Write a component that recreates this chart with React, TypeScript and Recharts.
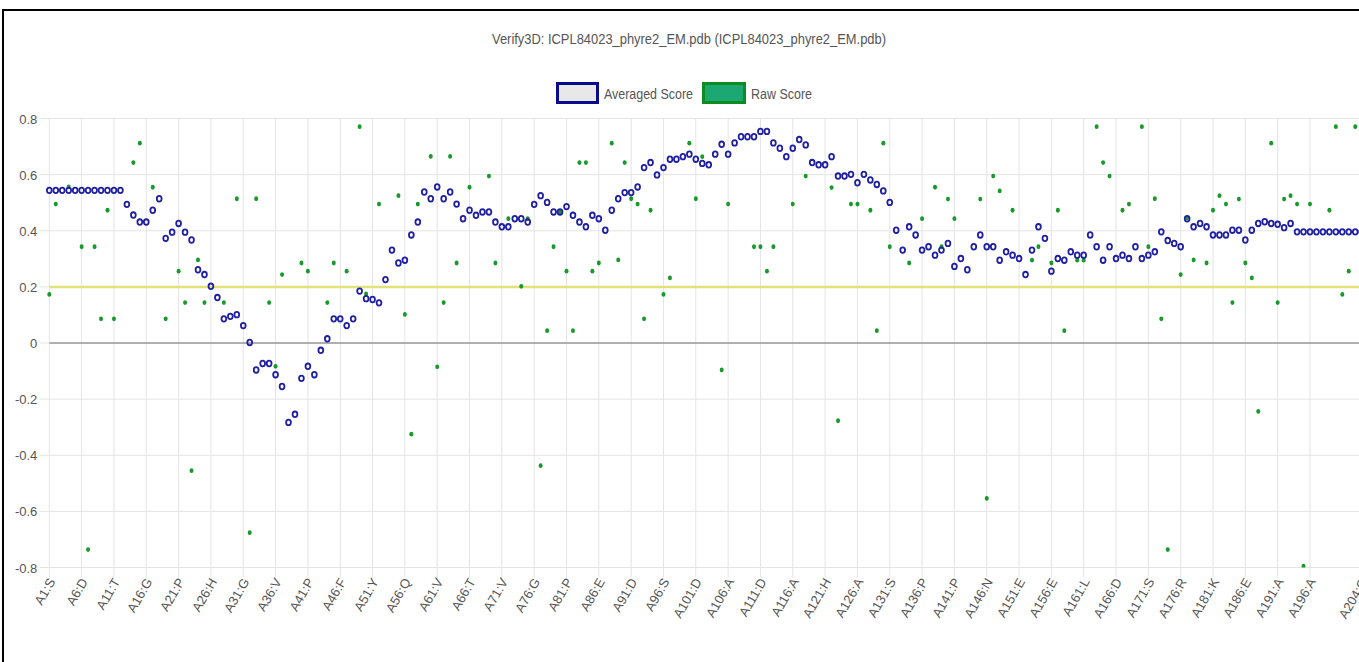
import React from 'react';
import { LineChart, Line, XAxis, YAxis, CartesianGrid, ReferenceLine } from 'recharts';

const n = null;

// residue numbers (categories)
const residues: number[] = Array.from({ length: 204 }, (_, i) => i + 1);

// residues that carry a visible tick label
const tickResidues = [1, 6, 11, 16, 21, 26, 31, 36, 41, 46, 51, 56, 61, 66, 71, 76, 81, 86, 91, 96, 101, 106, 111, 116, 121, 126, 131, 136, 141, 146, 151, 156, 161, 166, 171, 176, 181, 186, 191, 196, 204];
const tickLabels = ['A1:S', 'A6:D', 'A11:T', 'A16:G', 'A21:P', 'A26:H', 'A31:G', 'A36:V', 'A41:P', 'A46:F', 'A51:Y', 'A56:Q', 'A61:V', 'A66:T', 'A71:V', 'A76:G', 'A81:P', 'A86:E', 'A91:D', 'A96:S', 'A101:D', 'A106:A', 'A111:D', 'A116:A', 'A121:H', 'A126:A', 'A131:S', 'A136:P', 'A141:P', 'A146:N', 'A151:E', 'A156:E', 'A161:L', 'A166:D', 'A171:S', 'A176:R', 'A181:K', 'A186:E', 'A191:A', 'A196:A', 'A204:G'];

const yTicks = [-0.8, -0.6, -0.4, -0.2, 0, 0.2, 0.4, 0.6, 0.8];
const threshold = 0.2;

const averagedScore = [
  0.544, 0.544, 0.544, 0.544, 0.544, 0.544, 0.544, 0.544, 0.544, 0.544,
  0.544, 0.544, 0.494, 0.456, 0.431, 0.431, 0.473, 0.514, 0.373, 0.395,
  0.426, 0.395, 0.367, 0.261, 0.244, 0.202, 0.162, 0.086, 0.095, 0.101,
  0.062, 0.002, -0.096, -0.073, -0.073, -0.113, -0.155, -0.283, -0.254, -0.126,
  -0.083, -0.113, -0.026, 0.015, 0.086, 0.086, 0.062, 0.086, 0.185, 0.158,
  0.155, 0.143, 0.226, 0.331, 0.285, 0.295, 0.385, 0.431, 0.538, 0.514,
  0.556, 0.514, 0.538, 0.495, 0.443, 0.473, 0.455, 0.467, 0.467, 0.431,
  0.414, 0.414, 0.443, 0.443, 0.431, 0.494, 0.525, 0.501, 0.467, 0.467,
  0.486, 0.455, 0.431, 0.414, 0.455, 0.443, 0.402, 0.473, 0.514, 0.536,
  0.536, 0.556, 0.625, 0.643, 0.599, 0.625, 0.655, 0.655, 0.664, 0.673,
  0.655, 0.640, 0.635, 0.673, 0.708, 0.673, 0.713, 0.735, 0.735, 0.735,
  0.754, 0.754, 0.713, 0.694, 0.664, 0.694, 0.725, 0.706, 0.643, 0.635,
  0.635, 0.664, 0.595, 0.595, 0.601, 0.571, 0.601, 0.581, 0.565, 0.542,
  0.501, 0.402, 0.331, 0.414, 0.385, 0.331, 0.343, 0.313, 0.331, 0.355,
  0.273, 0.301, 0.261, 0.343, 0.385, 0.343, 0.343, 0.295, 0.325, 0.313,
  0.301, 0.244, 0.331, 0.414, 0.373, 0.256, 0.301, 0.295, 0.325, 0.313,
  0.313, 0.385, 0.343, 0.295, 0.343, 0.301, 0.313, 0.301, 0.343, 0.301,
  0.313, 0.325, 0.396, 0.365, 0.355, 0.343, 0.443, 0.414, 0.426, 0.414,
  0.385, 0.385, 0.385, 0.402, 0.402, 0.367, 0.402, 0.426, 0.432, 0.426,
  0.423, 0.411, 0.426, 0.396, 0.396, 0.396, 0.396, 0.396, 0.396, 0.396,
  0.396, 0.396, 0.396, 0.396,
];

const rawScore: (number | null)[] = [
  0.173, 0.495, n, 0.556, n, 0.343, -0.736, 0.343, 0.086, 0.473,
  0.086, n, n, 0.643, 0.712, n, 0.555, n, 0.086, n,
  0.256, 0.144, -0.455, 0.296, 0.144, n, n, 0.144, n, 0.514,
  n, -0.676, 0.514, n, 0.144, -0.083, 0.244, n, n, 0.285,
  0.256, n, n, 0.144, 0.285, n, 0.256, n, 0.771, 0.175,
  n, 0.495, n, n, 0.525, 0.102, -0.325, 0.495, n, 0.665,
  -0.085, 0.144, 0.665, 0.285, n, 0.555, n, n, 0.595, 0.285,
  n, 0.443, n, 0.202, 0.443, n, -0.437, 0.044, 0.343, 0.467,
  0.256, 0.044, 0.643, 0.643, 0.256, 0.285, n, 0.712, 0.296, 0.643,
  0.514, 0.495, 0.086, 0.473, n, 0.173, 0.232, n, n, 0.712,
  0.514, 0.664, n, n, -0.096, 0.495, n, n, n, 0.343,
  0.343, 0.256, 0.343, n, n, 0.495, n, 0.595, n, n,
  n, 0.554, -0.277, n, 0.495, 0.495, n, 0.473, 0.044, 0.712,
  0.343, n, n, 0.285, n, 0.443, n, 0.555, 0.343, 0.513,
  0.443, n, n, n, 0.513, -0.554, 0.595, 0.542, n, 0.473,
  n, n, 0.295, 0.343, n, 0.285, 0.473, 0.044, n, 0.295,
  0.295, n, 0.771, 0.643, 0.595, n, 0.473, 0.495, n, 0.771,
  0.343, 0.514, 0.086, -0.736, n, 0.244, 0.446, 0.296, n, 0.285,
  0.473, 0.525, 0.495, 0.144, 0.513, 0.285, 0.232, -0.244, n, 0.712,
  0.144, 0.513, 0.525, 0.495, -0.795, 0.495, n, n, 0.473, 0.771,
  0.173, 0.256, 0.771, 0,
];

const data = residues.map((r, i) => ({ res: r, avg: averagedScore[i], raw: rawScore[i] }));

const labelFor = (v: number) => {
  const k = tickResidues.indexOf(v);
  return k >= 0 ? tickLabels[k] : '';
};

const FONT = '"Liberation Sans", Arial, Helvetica, sans-serif';

const XTick = (props: any) => {
  const { x, y, payload } = props;
  return (
    <g transform={`translate(${x + 3},${y})`}>
      <text x={0} y={0} textAnchor="end" transform="rotate(-60)" fontSize={13} fill="#555" fontFamily={FONT} dy={4}>
        {labelFor(payload.value)}
      </text>
    </g>
  );
};

const YTick = (props: any) => {
  const { x, y, payload } = props;
  const v = Math.round(payload.value * 10) / 10;
  return (
    <text x={x} y={y} dy={5} textAnchor="end" fontSize={13} fill="#555" fontFamily={FONT}>
      {String(v)}
    </text>
  );
};

const AvgDot = (props: any) => {
  const { cx, cy, index, value } = props;
  if (value == null || cx == null || cy == null) return <g key={`a${index}`} />;
  return <ellipse key={`a${index}`} cx={cx} cy={cy} rx={2.4} ry={2.8} fill="none" stroke="#1f1fa3" strokeWidth={1.8} />;
};

const RawDot = (props: any) => {
  const { cx, cy, index, value } = props;
  if (value == null || cx == null || cy == null) return <g key={`r${index}`} />;
  return <ellipse key={`r${index}`} cx={cx} cy={cy} rx={2} ry={2.4} fill="#179a2a" stroke="none" />;
};

export default function App() {
  return (
    <div style={{ position: 'absolute', left: 0, top: 0, width: 1359, height: 662, overflow: 'hidden', background: '#fff' }}>
      <div style={{ position: 'absolute', left: 2, top: 9, width: 1400, height: 700, borderTop: '2px solid #000', borderLeft: '2px solid #000' }} />
      <svg width={1359} height={120} style={{ position: 'absolute', left: 0, top: 0 }}>
        <text x={492} y={44} fontSize={14} fill="#555" fontFamily={FONT} textLength={394} lengthAdjust="spacingAndGlyphs">
          Verify3D: ICPL84023_phyre2_EM.pdb (ICPL84023_phyre2_EM.pdb)
        </text>
        <rect x={557.5} y={83.5} width={40} height={19} fill="#e8e8e8" stroke="#0a0a8c" strokeWidth={3} />
        <text x={604} y={99} fontSize={14} fill="#555" fontFamily={FONT} textLength={89} lengthAdjust="spacingAndGlyphs">Averaged Score</text>
        <rect x={703.5} y={83.5} width={41} height={19} fill="#1ba872" stroke="#0f8c20" strokeWidth={3} />
        <text x={751} y={99} fontSize={14} fill="#555" fontFamily={FONT} textLength={61} lengthAdjust="spacingAndGlyphs">Raw Score</text>
      </svg>
      <div style={{ position: 'absolute', left: 0, top: 0 }}>
        <LineChart width={1372} height={662} data={data} margin={{ top: 118.5, right: 10.3, bottom: 0, left: 0 }}>
          <CartesianGrid stroke="#e4e4e4" strokeWidth={1} />
          <XAxis
            dataKey="res"
            type="category"
            scale="point"
            padding={{ left: 0, right: 0 }}
            ticks={tickResidues}
            interval={0}
            height={94.5}
            axisLine={false}
            tickLine={{ stroke: '#e4e4e4' }}
            tickSize={10}
            tickMargin={2}
            tick={<XTick />}
          />
          <YAxis
            type="number"
            domain={[-0.8, 0.8]}
            ticks={yTicks}
            allowDataOverflow
            width={49.3}
            axisLine={false}
            tickLine={{ stroke: '#e4e4e4' }}
            tickSize={10}
            tickMargin={2}
            tick={<YTick />}
          />
          <ReferenceLine y={0} stroke="#999" strokeWidth={1.5} />
          <ReferenceLine y={threshold} stroke="#e2e27a" strokeWidth={2.5} />
          <Line dataKey="raw" stroke="none" strokeWidth={0} dot={<RawDot />} activeDot={false} isAnimationActive={false} legendType="none" />
          <Line dataKey="avg" stroke="none" strokeWidth={0} dot={<AvgDot />} activeDot={false} isAnimationActive={false} legendType="none" />
        </LineChart>
      </div>
    </div>
  );
}
